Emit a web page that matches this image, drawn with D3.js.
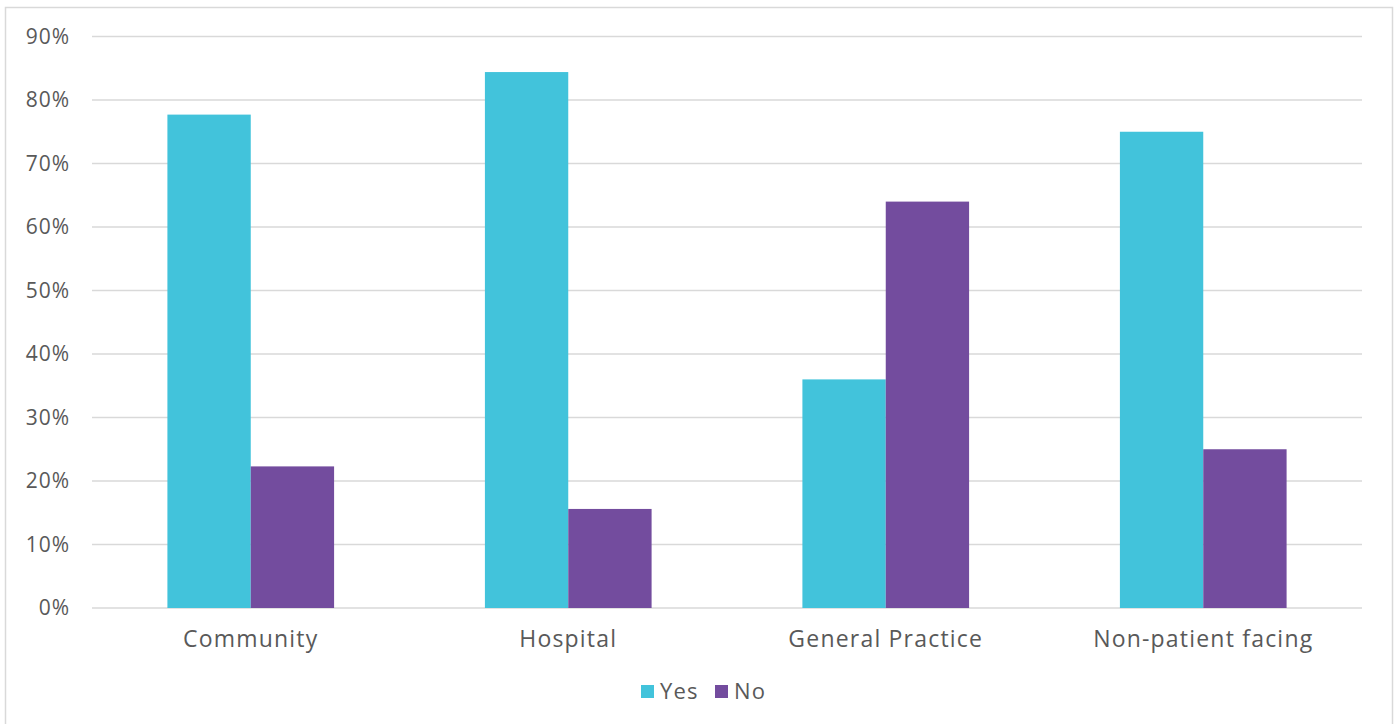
<!DOCTYPE html>
<html>
<head>
<meta charset="utf-8">
<script src="https://cdn.jsdelivr.net/npm/d3@7"></script>
<style>
  html, body { margin: 0; padding: 0; background: #fff; }
  svg { display: block; }
  text { font-family: "Open Sans", "Lato", sans-serif; fill: #595959; }
</style>
</head>
<body>
<svg id="chart" width="1397" height="724"></svg>
<script>
// Share of respondents answering Yes / No, by work setting
const categories = ["Community", "Hospital", "General Practice", "Non-patient facing"];
const seriesNames = ["Yes", "No"];
const yesValues = [77.7, 84.4, 36.0, 75.0];
const noValues = [22.3, 15.6, 64.0, 25.0];
const yTicks = [0, 10, 20, 30, 40, 50, 60, 70, 80, 90];
const colors = ["#42C3DB", "#734C9E"];

const W = 1397, H = 724;
const plot = { left: 92, right: 1362, top: 36.5, bottom: 608 };

const svg = d3.select("#chart");

// outer frame
svg.append("rect")
  .attr("x", 5.5).attr("y", 7.5)
  .attr("width", 1387).attr("height", 730)
  .attr("fill", "none").attr("stroke", "#d9d9d9").attr("stroke-width", 1.5);

const x0 = d3.scaleBand().domain(categories).range([plot.left, plot.right]).paddingInner(0).paddingOuter(0);
const groupWidth = x0.bandwidth() * 0.525;
const x1 = d3.scaleBand().domain(seriesNames).range([0, groupWidth]).padding(0);
const y = d3.scaleLinear().domain([0, 90]).range([plot.bottom, plot.top]);

// gridlines
svg.append("g").selectAll("line").data(yTicks).join("line")
  .attr("x1", plot.left).attr("x2", plot.right)
  .attr("y1", d => y(d)).attr("y2", d => y(d))
  .attr("stroke", "#d9d9d9").attr("stroke-width", 1.5);

// y axis labels
const yAxis = d3.axisLeft(y).tickValues(yTicks).tickFormat(d => d + "%").tickSize(0).tickPadding(0);
const yg = svg.append("g").attr("transform", `translate(70,0)`).call(yAxis);
yg.select(".domain").remove();
yg.selectAll("text").attr("font-size", 21).attr("letter-spacing", 1)
  .style("fill", "#595959").style("font-family", '"Open Sans", sans-serif');

// bars
const rows = categories.map((c, i) => ({ cat: c, vals: [yesValues[i], noValues[i]] }));
const groups = svg.append("g").selectAll("g").data(rows).join("g")
  .attr("transform", d => `translate(${x0(d.cat) + (x0.bandwidth() - groupWidth) / 2},0)`);
groups.selectAll("rect").data(d => d.vals.map((v, k) => ({ key: seriesNames[k], v, k })))
  .join("rect")
  .attr("x", d => x1(d.key))
  .attr("width", x1.bandwidth())
  .attr("y", d => y(d.v))
  .attr("height", d => y(0) - y(d.v))
  .attr("fill", d => colors[d.k]);

// category labels
const xAxis = d3.axisBottom(x0).tickSize(0).tickPadding(0);
const xg = svg.append("g").attr("transform", `translate(0,${plot.bottom})`).call(xAxis);
xg.select(".domain").remove();
xg.selectAll("text").attr("dy", null).attr("y", 39).attr("font-size", 23).attr("letter-spacing", 1.2)
  .style("fill", "#595959").style("font-family", '"Open Sans", sans-serif');

// legend
const legend = svg.append("g").attr("transform", "translate(641,685)");
const legendItems = [{ name: "Yes", x: 0 }, { name: "No", x: 74 }];
legendItems.forEach((d, i) => {
  legend.append("rect").attr("x", d.x).attr("y", 0).attr("width", 13).attr("height", 13).attr("fill", colors[i]);
  legend.append("text").attr("x", d.x + 19).attr("y", 14).attr("font-size", 22).attr("letter-spacing", 1.2).text(d.name);
});
</script>
</body>
</html>
